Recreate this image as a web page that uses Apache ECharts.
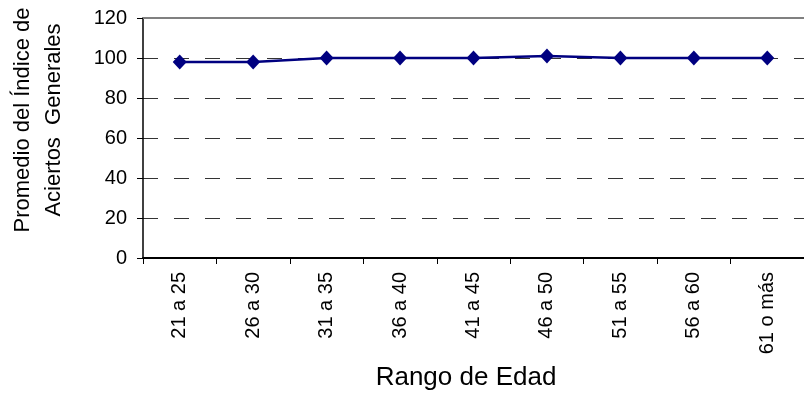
<!DOCTYPE html>
<html>
<head>
<meta charset="utf-8">
<script src="https://cdn.jsdelivr.net/npm/echarts@6/dist/echarts.min.js"></script>
<style>html,body{margin:0;padding:0;background:#fff;}#c{width:804px;height:393px;}</style>
</head>
<body>
<div id="c"></div>
<script>
const categories = ['21 a 25','26 a 30','31 a 35','36 a 40','41 a 45','46 a 50','51 a 55','56 a 60','61 o más'];
const values = [98, 98, 100, 100, 100, 101, 100, 100, 100];
const yTicks = {min: 0, max: 120, interval: 20};
const xTitle = 'Rango de Edad';
const yTitle = 'Promedio del Índice de\nAciertos  Generales';

const FONT = '"Liberation Sans", Arial, sans-serif';
const chart = echarts.init(document.getElementById('c'), null, {renderer: 'canvas'});
chart.setOption({
  animation: false,
  backgroundColor: '#fff',
  textStyle: {fontFamily: FONT},
  grid: {left: 143, top: 18, width: 666, height: 240, containLabel: false},
  graphic: [
    {type: 'text', x: 38, y: 120, rotation: Math.PI / 2,
     style: {text: yTitle, font: '22px ' + FONT, fill: '#000', align: 'center', verticalAlign: 'middle', lineHeight: 31}},
    {type: 'text', x: 466, y: 378,
     style: {text: xTitle, font: '26px ' + FONT, fill: '#000', align: 'center', verticalAlign: 'middle'}}
  ],
  xAxis: [{
    type: 'category', data: categories, boundaryGap: true, position: 'bottom',
    axisLine: {lineStyle: {color: '#000', width: 2}},
    axisTick: {show: true, alignWithLabel: false, length: 6, lineStyle: {color: '#000', width: 1}},
    axisLabel: {rotate: 90, margin: 14, color: '#000', fontSize: 20, fontFamily: FONT},
    splitLine: {show: false}
  }, {
    type: 'category', data: categories, position: 'top',
    axisLine: {lineStyle: {color: '#808080', width: 2}},
    axisTick: {show: false}, axisLabel: {show: false}, splitLine: {show: false}
  }],
  yAxis: {
    type: 'value', min: yTicks.min, max: yTicks.max, interval: yTicks.interval,
    axisLine: {show: true, lineStyle: {color: '#000', width: 1.5}},
    axisTick: {show: true, length: 6, lineStyle: {color: '#000'}},
    axisLabel: {margin: 16, color: '#000', fontSize: 20, fontFamily: FONT},
    splitLine: {show: true, lineStyle: {color: '#333', type: [15, 16], width: 1}}
  },
  series: [{
    type: 'line', data: values, xAxisIndex: 0,
    symbol: 'diamond', symbolSize: [14, 15],
    lineStyle: {color: '#000080', width: 2.5},
    itemStyle: {color: '#000080'}
  }]
});
</script>
</body>
</html>
